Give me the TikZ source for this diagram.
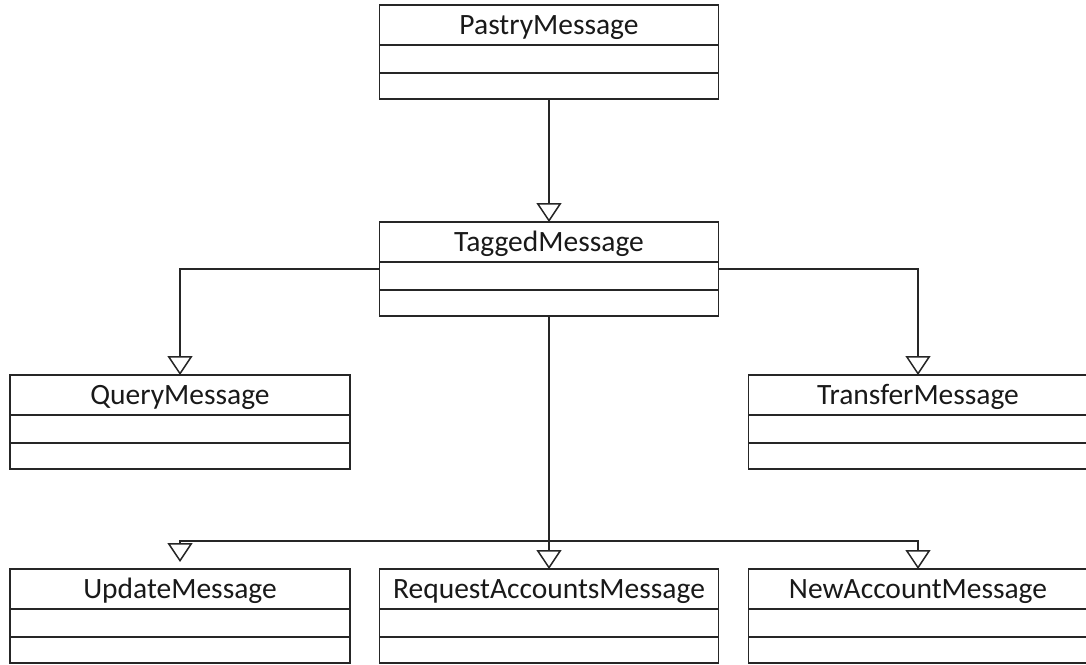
\documentclass[tikz,border=0pt]{standalone}
\usepackage{fontspec}
\setmainfont{Carlito}
\usetikzlibrary{arrows.meta,calc}

\tikzset{
  classbox/.style={draw=black!85, line width=1.5pt, rectangle, inner xsep=0pt, inner ysep=0pt,
    outer sep=0pt, minimum width=339pt, text height=29.5pt, text depth=64.5pt,
    anchor=north, font=\fontsize{29.5}{32}\selectfont, text=black!90},
  sepline/.style={draw=black!85, line width=1.5pt},
  inherit/.style={draw=black!85, line width=2pt,
    -{Triangle[open, width=25pt, length=19pt, line width=1.5pt]}},
}

% draws the two compartment lines of a class box
\newcommand{\compartments}[1]{%
  \draw[sepline] ($(#1.north west)+(0,40)$) -- ($(#1.north east)+(0,40)$);
  \draw[sepline] ($(#1.north west)+(0,68)$) -- ($(#1.north east)+(0,68)$);
}

\begin{document}
\begin{tikzpicture}[x=1pt, y=-1pt]
  \useasboundingbox (0,0) rectangle (1086,664);
  \clip (0,0) rectangle (1086,664);

  \node[classbox] (pastry)   at (549, 5)     {PastryMessage};
  \node[classbox] (tagged)   at (549, 222)   {TaggedMessage};
  \node[classbox, minimum width=340pt] (query) at (180, 375) {QueryMessage};
  \node[classbox] (transfer) at (918, 375)   {TransferMessage};
  \node[classbox, minimum width=340pt] (update) at (180, 569) {UpdateMessage};
  \node[classbox] (request)  at (549, 569)   {RequestAccountsMessage};
  \node[classbox] (newacct)  at (918, 569)   {NewAccountMessage};

  \compartments{pastry}
  \compartments{tagged}
  \compartments{query}
  \compartments{transfer}
  \compartments{update}
  \compartments{request}
  \compartments{newacct}

  % generalisation links
  \draw[inherit] (pastry.south) -- (tagged.north);
  \draw[inherit] (tagged.west) -| (query.north);
  \draw[inherit] (tagged.east) -| (transfer.north);
  \draw[inherit] (tagged.south) -- (request.north);

  \coordinate (branch) at (549, 541);
  \draw[inherit, shorten >=7pt] (branch) -| (update.north);
  \draw[inherit] (branch) -| (newacct.north);
\end{tikzpicture}
\end{document}
